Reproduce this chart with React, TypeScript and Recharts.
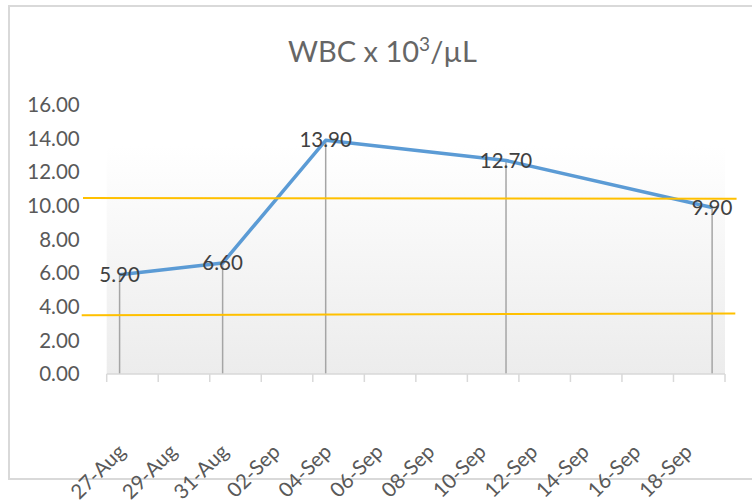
import React from 'react';
import { LineChart, Line, XAxis, YAxis, ReferenceLine, ReferenceArea, LabelList } from 'recharts';

const sampleDates = ['2024-08-27', '2024-08-31', '2024-09-04', '2024-09-11', '2024-09-19'];
const wbcValues = [5.9, 6.6, 13.9, 12.7, 9.9];
const tickLabels = ['27-Aug', '29-Aug', '31-Aug', '02-Sep', '04-Sep', '06-Sep', '08-Sep', '10-Sep', '12-Sep', '14-Sep', '16-Sep', '18-Sep'];
const yTicks = [0, 2, 4, 6, 8, 10, 12, 14, 16];
const upperLimit = [10.47, 10.43];
const lowerLimit = [3.5, 3.6];
const axisStart = '2024-08-27';
const axisDays = 24;

const dayOf = (iso: string) => (Date.parse(iso) - Date.parse(axisStart)) / 86400000;
const data = sampleDates.map((d, i) => ({ day: dayOf(d) + 0.5, wbc: wbcValues[i] }));
const xTicks = Array.from({ length: axisDays / 2 + 1 }, (_, i) => i * 2);

const XTick = (props: any) => {
  const { x, y, index } = props;
  if (index >= tickLabels.length) return null;
  return (
    <text
      transform={`translate(${x + 20},${y + 69}) rotate(-45)`}
      textAnchor="end"
      fill="#595959"
      fontSize={20.5}
      fontFamily="Lato"
    >
      {tickLabels[index]}
    </text>
  );
};

const YTick = (props: any) => {
  const { x, y, payload } = props;
  return (
    <text x={x} y={y} dy="0.35em" textAnchor="end" fill="#595959" fontSize={20.5} fontFamily="Lato">
      {Number(payload.value).toFixed(2)}
    </text>
  );
};

const DataLabel = (props: any) => {
  const { x, y, value } = props;
  return (
    <text x={x} y={y} dy="0.35em" textAnchor="middle" fill="#404040" fontSize={20.5} fontFamily="Lato">
      {Number(value).toFixed(2)}
    </text>
  );
};

export default function App() {
  return (
    <div style={{ position: 'absolute', left: 0, top: 0, width: 752, height: 502, overflow: 'hidden', background: '#fff', fontFamily: 'Lato' }}>
      <svg width={0} height={0} style={{ position: 'absolute' }}>
        <defs>
          <linearGradient id="plotGrad" x1="0" y1="0" x2="0" y2="1">
            <stop offset="0" stopColor="#ffffff" />
            <stop offset="0.15" stopColor="#ffffff" />
            <stop offset="1" stopColor="#ececec" />
          </linearGradient>
        </defs>
      </svg>
      <div
        style={{
          position: 'absolute',
          left: 8,
          top: 5,
          width: 800,
          height: 471,
          border: '2px solid #d9d9d9',
        }}
      />
      <div
        style={{
          position: 'absolute',
          left: 0,
          top: 36,
          width: 765,
          textAlign: 'center',
          fontSize: 29,
          lineHeight: '29px',
          color: '#666666',
          fontFamily: 'Lato',
        }}
      >
        WBC x 10<span style={{ fontSize: 19, verticalAlign: 'super', lineHeight: 0 }}>3</span>/µL
      </div>
      <div style={{ position: 'absolute', left: 0, top: 0 }}>
        <LineChart width={752} height={502} data={data} margin={{ top: 105, right: 27, bottom: 0, left: 0 }}>
          <XAxis
            type="number"
            dataKey="day"
            domain={[0, axisDays]}
            ticks={xTicks}
            interval={0}
            height={128}
            axisLine={{ stroke: '#d9d9d9', strokeWidth: 1.5 }}
            tickLine={{ stroke: '#d9d9d9', strokeWidth: 1.5 }}
            tickSize={8}
            tick={<XTick />}
          />
          <YAxis
            type="number"
            domain={[0, 16]}
            ticks={yTicks}
            interval={0}
            width={106.7}
            axisLine={false}
            tickLine={false}
            tickSize={0}
            tickMargin={27}
            tick={<YTick />}
          />
          <ReferenceArea x1={0} x2={axisDays} y1={0} y2={16} fill="url(#plotGrad)" fillOpacity={1} stroke="none" />
          {data.map((d, i) => (
            <ReferenceLine
              key={i}
              segment={[{ x: d.day, y: d.wbc }, { x: d.day, y: 0 }]}
              stroke="#a5a5a5"
              strokeWidth={1.5}
            />
          ))}
          <Line
            type="linear"
            dataKey="wbc"
            stroke="#5b9bd5"
            strokeWidth={3.5}
            dot={false}
            isAnimationActive={false}
            strokeLinejoin="round"
          >
            <LabelList dataKey="wbc" content={<DataLabel />} />
          </Line>
          <ReferenceLine
            segment={[{ x: -0.92, y: upperLimit[0] }, { x: 24.45, y: upperLimit[1] }]}
            stroke="#ffc000"
            strokeWidth={2}
            ifOverflow="visible"
          />
          <ReferenceLine
            segment={[{ x: -0.97, y: lowerLimit[0] }, { x: 24.4, y: lowerLimit[1] }]}
            stroke="#ffc000"
            strokeWidth={2}
            ifOverflow="visible"
          />
        </LineChart>
      </div>
    </div>
  );
}
